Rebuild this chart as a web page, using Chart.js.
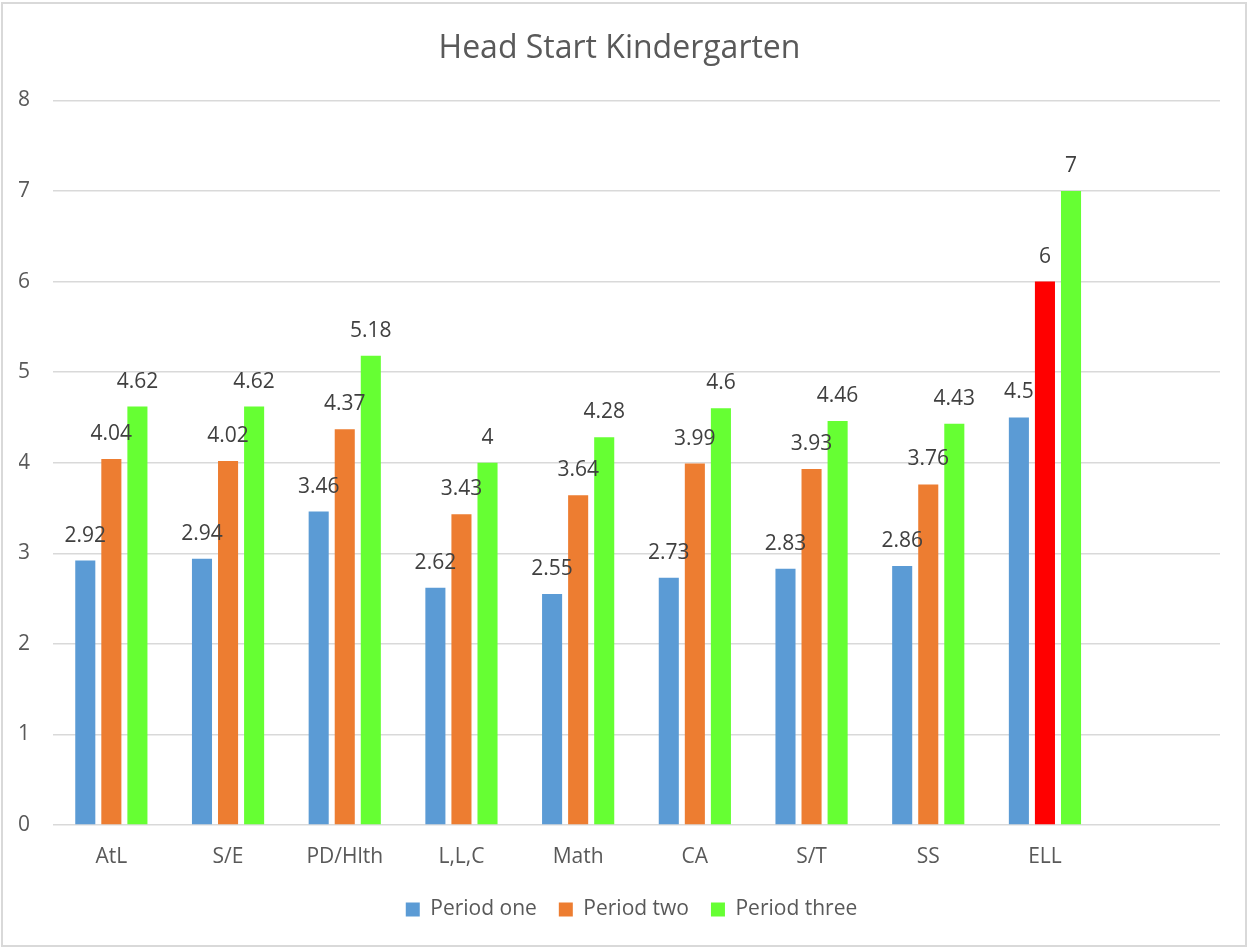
<!DOCTYPE html>
<html>
<head>
<meta charset="utf-8">
<script src="https://cdn.jsdelivr.net/npm/chart.js@4/dist/chart.umd.min.js"></script>
<style>
  html, body { margin: 0; padding: 0; background: #fff; }
  #wrap { position: relative; width: 1249px; height: 948px; }
</style>
</head>
<body>
<div id="wrap"><canvas id="chart"></canvas></div>
<script>
// categories (last slot is empty in the original)
var categories = ['AtL', 'S/E', 'PD/Hlth', 'L,L,C', 'Math', 'CA', 'S/T', 'SS', 'ELL', ''];

var periodOne   = [2.92, 2.94, 3.46, 2.62, 2.55, 2.73, 2.83, 2.86, 4.5, null];
var periodTwo   = [4.04, 4.02, 4.37, 3.43, 3.64, 3.99, 3.93, 3.76, 6, null];
var periodThree = [4.62, 4.62, 5.18, 4, 4.28, 4.6, 4.46, 4.43, 7, null];

var yTicks = [0, 1, 2, 3, 4, 5, 6, 7, 8];

var FONT = "'Open Sans', 'DejaVu Sans', sans-serif";

// orange bars, last one (ELL) in red
var periodTwoColors = periodTwo.map(function (v, i) {
    return categories[i] === 'ELL' ? '#FF0000' : '#ED7D31';
});

// outer frame like the Excel chart area
var framePlugin = {
    id: 'frame',
    beforeDraw: function (chart) {
        var ctx = chart.ctx;
        ctx.save();
        ctx.fillStyle = '#fff';
        ctx.fillRect(0, 0, chart.width, chart.height);
        ctx.strokeStyle = '#D9D9D9';
        ctx.lineWidth = 2;
        ctx.strokeRect(2, 3, chart.width - 5, chart.height - 5);
        ctx.restore();
    },
    // nudge the legend a little left, as in the original
    afterLayout: function (chart) {
        if (chart.legend) {
            chart.legend.left -= 5;
            chart.legend.right -= 5;
        }
    }
};

// value labels on top of each bar
var valueLabels = {
    id: 'valueLabels',
    afterDatasetsDraw: function (chart) {
        var ctx = chart.ctx;
        ctx.save();
        ctx.font = '21px ' + FONT;
        ctx.fillStyle = '#404040';
        ctx.textAlign = 'center';
        ctx.textBaseline = 'middle';
        chart.data.datasets.forEach(function (ds, di) {
            var meta = chart.getDatasetMeta(di);
            meta.data.forEach(function (bar, i) {
                var v = ds.data[i];
                if (v === null || v === undefined) return;
                ctx.fillText(String(v), bar.x, bar.y - 25);
            });
        });
        ctx.restore();
    }
};

var chartSelector = document.getElementById('chart');
var headStartChart = new Chart(chartSelector, {
    type: 'bar',
    data: {
        labels: categories,
        datasets: [{
            label: 'Period one',
            data: periodOne,
            backgroundColor: '#5B9BD5'
        }, {
            label: 'Period two',
            data: periodTwo,
            backgroundColor: periodTwoColors
        }, {
            label: 'Period three',
            data: periodThree,
            backgroundColor: '#66FF33'
        }]
    },
    options: {
        responsive: true,
        maintainAspectRatio: false,
        animation: false,
        categoryPercentage: 0.67,
        barPercentage: 0.77,
        layout: {
            padding: { left: 19, right: 29, top: 10, bottom: 18 }
        },
        plugins: {
            title: {
                display: true,
                text: 'Head Start Kindergarten',
                color: '#595959',
                font: { family: FONT, size: 32, weight: 'normal' },
                padding: { top: 20, bottom: 32 }
            },
            legend: {
                position: 'bottom',
                fullSize: false,
                labels: {
                    color: '#595959',
                    font: { family: FONT, size: 21 },
                    boxWidth: 14,
                    boxHeight: 14,
                    padding: 22,
                    generateLabels: function (chart) {
                        var cols = ['#5B9BD5', '#ED7D31', '#66FF33'];
                        return chart.data.datasets.map(function (ds, i) {
                            return {
                                text: ds.label,
                                fillStyle: cols[i],
                                strokeStyle: cols[i],
                                lineWidth: 0,
                                datasetIndex: i,
                                fontColor: '#595959'
                            };
                        });
                    }
                }
            },
            tooltip: { enabled: false }
        },
        scales: {
            x: {
                afterFit: function (scale) { scale.height = 52; },
                grid: { display: false, drawTicks: false },
                border: { display: false },
                ticks: {
                    color: '#595959',
                    font: { family: FONT, size: 21 },
                    padding: 19,
                    maxRotation: 0
                }
            },
            y: {
                min: 0,
                max: 8,
                afterFit: function (scale) { scale.width = 34; },
                afterBuildTicks: function (scale) {
                    scale.ticks = yTicks.map(function (v) { return { value: v }; });
                },
                grid: { color: '#D9D9D9', lineWidth: 1.5, drawTicks: false },
                border: { display: false },
                ticks: {
                    color: '#595959',
                    font: { family: FONT, size: 21 },
                    padding: 23
                }
            }
        }
    },
    plugins: [framePlugin, valueLabels]
});
</script>
</body>
</html>
